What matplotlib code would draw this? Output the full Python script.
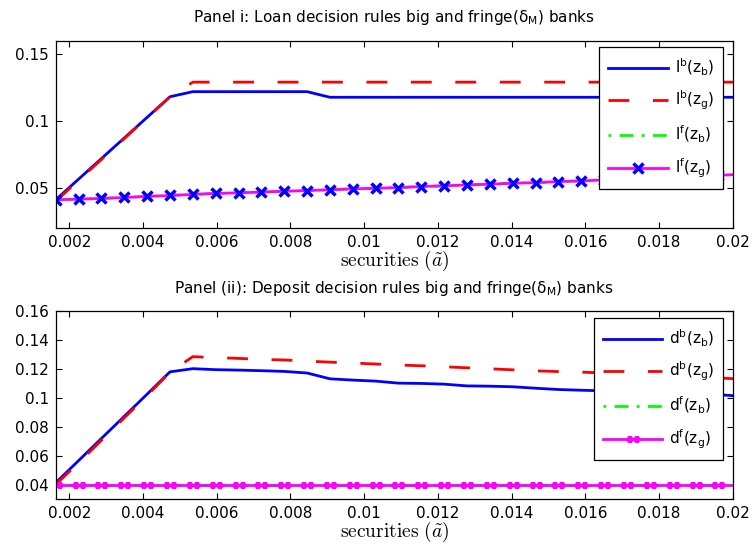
import numpy as np
import matplotlib.pyplot as plt
from matplotlib.path import Path
from matplotlib.ticker import FuncFormatter

plt.rcParams['font.family'] = ['DejaVu Sans']

# securities grid (x axis)
securities = [0.00163, 0.00225, 0.00287, 0.00349, 0.00411, 0.00473, 0.00535,
              0.00597, 0.00659, 0.00721, 0.00783, 0.00845, 0.00907, 0.00969,
              0.01031, 0.01093, 0.01155, 0.01217, 0.01279, 0.01341, 0.01403,
              0.01465, 0.01527, 0.01589, 0.01651, 0.01713, 0.01775, 0.01837,
              0.01899, 0.01961, 0.02023]

# Panel i: loan decision rules
loan_big_zb = [0.0411, 0.0565, 0.0719, 0.0873, 0.1027, 0.1181, 0.1219, 0.1219,
               0.1219, 0.1219, 0.1219, 0.1219, 0.1177, 0.1177, 0.1177, 0.1177,
               0.1177, 0.1177, 0.1177, 0.1177, 0.1177, 0.1177, 0.1177, 0.1177,
               0.1177, 0.1177, 0.1177, 0.1177, 0.1177, 0.1177, 0.1177]
loan_big_zg = [0.0400, 0.0556, 0.0712, 0.0868, 0.1024, 0.1180, 0.1290, 0.1290,
               0.1290, 0.1290, 0.1290, 0.1290, 0.1290, 0.1290, 0.1290, 0.1290,
               0.1290, 0.1290, 0.1290, 0.1290, 0.1290, 0.1290, 0.1290, 0.1290,
               0.1290, 0.1290, 0.1290, 0.1290, 0.1290, 0.1290, 0.1290]
loan_fringe_zb = [0.0411, 0.0416, 0.0421, 0.0428, 0.0436, 0.0443, 0.0451, 0.0458,
                  0.0463, 0.0468, 0.0475, 0.0480, 0.0485, 0.0493, 0.0497, 0.0502,
                  0.0510, 0.0515, 0.0522, 0.0527, 0.0535, 0.0539, 0.0547, 0.0552,
                  0.0559, 0.0564, 0.0572, 0.0579, 0.0586, 0.0594, 0.0601]
loan_fringe_zg = loan_fringe_zb

# Panel (ii): deposit decision rules
dep_big_zb = [0.0412, 0.0565, 0.0718, 0.0871, 0.1024, 0.1178, 0.1200, 0.1193,
              0.1190, 0.1186, 0.1181, 0.1170, 0.1130, 0.1121, 0.1114, 0.1100,
              0.1098, 0.1093, 0.1081, 0.1079, 0.1075, 0.1065, 0.1056, 0.1051,
              0.1047, 0.1043, 0.1038, 0.1033, 0.1027, 0.1020, 0.1010]
dep_big_zg = [0.0400, 0.0550, 0.0705, 0.0860, 0.1015, 0.1175, 0.1283, 0.1276,
              0.1271, 0.1264, 0.1260, 0.1252, 0.1245, 0.1239, 0.1232, 0.1225,
              0.1220, 0.1213, 0.1206, 0.1199, 0.1192, 0.1185, 0.1180, 0.1176,
              0.1170, 0.1163, 0.1157, 0.1150, 0.1143, 0.1136, 0.1128]
dep_fringe_zb = [0.04, 0.04, 0.04, 0.04, 0.04, 0.04, 0.04, 0.04, 0.04, 0.04,
                 0.04, 0.04, 0.04, 0.04, 0.04, 0.04, 0.04, 0.04, 0.04, 0.04,
                 0.04, 0.04, 0.04, 0.04, 0.04, 0.04, 0.04, 0.04, 0.04, 0.04, 0.04]
dep_fringe_zg = dep_fringe_zb

xticks = [0.002, 0.004, 0.006, 0.008, 0.01, 0.012, 0.014, 0.016, 0.018, 0.02]
yticks_loan = [0.05, 0.1, 0.15]
yticks_dep = [0.04, 0.06, 0.08, 0.1, 0.12, 0.14, 0.16]


def twin_asterisk():
    # two line-drawn asterisks side by side (MATLAB-like '*' markers)
    verts, codes = [], []
    for cx in (-1.0, 1.0):
        for x0, y0, x1, y1 in [(-1, 0, 1, 0), (0, -1, 0, 1),
                               (-.7, -.7, .7, .7), (-.7, .7, .7, -.7)]:
            verts += [(cx + x0, y0), (cx + x1, y1)]
            codes += [Path.MOVETO, Path.LINETO]
    return Path(verts, codes)


fig = plt.figure(figsize=(7.54, 5.44), dpi=100)
ax1 = fig.add_axes([0.0739, 0.5809, 0.8979, 0.3443])
ax2 = fig.add_axes([0.0739, 0.0827, 0.8979, 0.3461])

lw = 2.0
fmt = FuncFormatter(lambda v, p: '%g' % v)


def lab(sym, sup, sub):
    return sym + r'$^{\mathregular{' + sup + r'}}$(z$_{\mathregular{' + sub + r'}}$)'


# top panel
ax1.plot(securities, loan_big_zb, color='blue', lw=lw, label=lab('l', 'b', 'b'))
ax1.plot(securities, loan_big_zg, color='red', lw=lw, dashes=(7.5, 8.5),
         label=lab('l', 'b', 'g'))
ax1.plot(securities, loan_fringe_zb, color=(0, 1, 0), lw=lw, dashes=(1, 3, 5, 3),
         label=lab('l', 'f', 'b'))
ax1.plot(securities, loan_fringe_zg, color='magenta', lw=lw, marker='x',
         markersize=6.5, markeredgewidth=2.5, markeredgecolor='blue',
         label=lab('l', 'f', 'g'))

# bottom panel
ax2.plot(securities, dep_big_zb, color='blue', lw=lw, label=lab('d', 'b', 'b'))
ax2.plot(securities, dep_big_zg, color='red', lw=lw, dashes=(7.5, 8.5),
         label=lab('d', 'b', 'g'))
ax2.plot(securities, dep_fringe_zb, color=(0, 1, 0), lw=lw, dashes=(1, 3, 5, 3),
         label=lab('d', 'f', 'b'))
ax2.plot(securities, dep_fringe_zg, color='magenta', lw=lw, marker=twin_asterisk(),
         markersize=10, markeredgewidth=2, markerfacecolor='none',
         label=lab('d', 'f', 'g'))

for ax, yt, ylim in [(ax1, yticks_loan, (0.02, 0.16)), (ax2, yticks_dep, (0.03, 0.16))]:
    ax.set_xlim(0.00163, 0.02)
    ax.set_ylim(*ylim)
    ax.set_xticks(xticks)
    ax.set_yticks(yt)
    ax.xaxis.set_major_formatter(fmt)
    ax.yaxis.set_major_formatter(fmt)
    ax.tick_params(direction='in', top=True, right=True, length=4, width=0.8,
                   labelsize=11, pad=5)
    for s in ax.spines.values():
        s.set_linewidth(0.9)
    ax.set_xlabel(r'$\mathrm{securities}\ (\tilde{a})$', fontsize=14,
                  math_fontfamily='cm', labelpad=-1)

leg_kw = dict(loc='upper right', borderaxespad=0, fontsize=11, handlelength=3.9,
              handletextpad=0.45, labelspacing=0.75, borderpad=0.6,
              fancybox=False, framealpha=1, edgecolor='black')
l1 = ax1.legend(bbox_to_anchor=(0.9861, 0.9648), **leg_kw)
l2 = ax2.legend(bbox_to_anchor=(0.9861, 0.9596), **leg_kw)
for l in (l1, l2):
    l.get_frame().set_linewidth(0.9)

fig.text(0.5225, 0.9601, 'Panel i: Loan decision rules big and fringe(δ$_{\\mathregular{M}}$) banks',
         ha='center', va='baseline', fontsize=11)
fig.text(0.5225, 0.4614, 'Panel (ii): Deposit decision rules big and fringe(δ$_{\\mathregular{M}}$) banks',
         ha='center', va='baseline', fontsize=11)

fig.savefig('out.png', dpi=100)
